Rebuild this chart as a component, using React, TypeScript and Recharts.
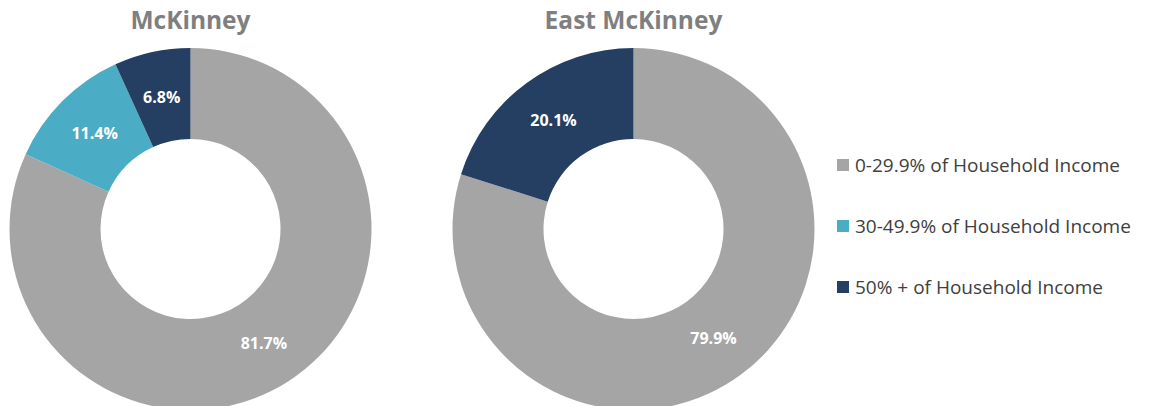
import type { FC } from "react";
import { PieChart, Pie, Cell } from "recharts";

// === 데이터 ===
const categories = [
  "0-29.9% of Household Income",
  "30-49.9% of Household Income",
  "50% + of Household Income",
];
const mckinneyValues = [81.7, 11.4, 6.8];
const eastMckinneyValues = [79.9, 0, 20.1];
const chartTitles = ["McKinney", "East McKinney"];

// === 상수 ===
const COLORS = ["#a5a5a5", "#4bacc6", "#243f62"];
const FONT = "'Open Sans', 'Noto Sans', sans-serif";
const RADIAN = Math.PI / 180;

const toRows = (values: number[]) =>
  categories.map((name, i) => ({ name, value: values[i] }));

// 슬라이스 중앙 라벨
const renderLabel = (props: any) => {
  const { cx, cy, midAngle, innerRadius, outerRadius, value } = props;
  if (!value) return null;
  const r = (innerRadius + outerRadius) / 2;
  const x = cx + r * Math.cos(-midAngle * RADIAN);
  const y = cy + r * Math.sin(-midAngle * RADIAN);
  return (
    <text
      x={x}
      y={y}
      fill="#ffffff"
      textAnchor="middle"
      dominantBaseline="central"
      fontFamily={FONT}
      fontWeight={700}
      fontSize={16}
    >
      {`${value.toFixed(1)}%`}
    </text>
  );
};

const App: FC = () => {
  const series = [toRows(mckinneyValues), toRows(eastMckinneyValues)];
  const centers = [190.5, 633.5];

  return (
    <div
      style={{
        position: "absolute",
        left: 0,
        top: 0,
        width: 1150,
        height: 406,
        background: "#ffffff",
        overflow: "hidden",
        fontFamily: FONT,
      }}
    >
      <PieChart
        width={1150}
        height={406}
        margin={{ top: 0, right: 0, bottom: 0, left: 0 }}
      >
        {series.map((rows, s) => (
          <Pie
            key={s}
            data={rows}
            dataKey="value"
            nameKey="name"
            cx={centers[s]}
            cy={229}
            innerRadius={90}
            outerRadius={181}
            startAngle={90}
            endAngle={-270}
            stroke="none"
            label={renderLabel}
            labelLine={false}
            isAnimationActive={false}
          >
            {rows.map((_, i) => (
              <Cell key={i} fill={COLORS[i]} />
            ))}
          </Pie>
        ))}
      </PieChart>

      {/* 제목 */}
      {chartTitles.map((t, s) => (
        <div
          key={t}
          style={{
            position: "absolute",
            left: centers[s] - 150,
            width: 300,
            top: 3,
            textAlign: "center",
            fontSize: 24.5,
            fontWeight: 700,
            color: "#7f7f7f",
          }}
        >
          {t}
        </div>
      ))}

      {/* 범례 */}
      {categories.map((c, i) => (
        <div
          key={c}
          style={{
            position: "absolute",
            left: 837,
            top: 152 + i * 61,
            height: 26,
            display: "flex",
            alignItems: "center",
            fontSize: 19,
            color: "#404040",
          }}
        >
          <span
            style={{
              display: "inline-block",
              width: 12,
              height: 12,
              background: COLORS[i],
              marginRight: 6,
            }}
          />
          {c}
        </div>
      ))}
    </div>
  );
};

export default App;
